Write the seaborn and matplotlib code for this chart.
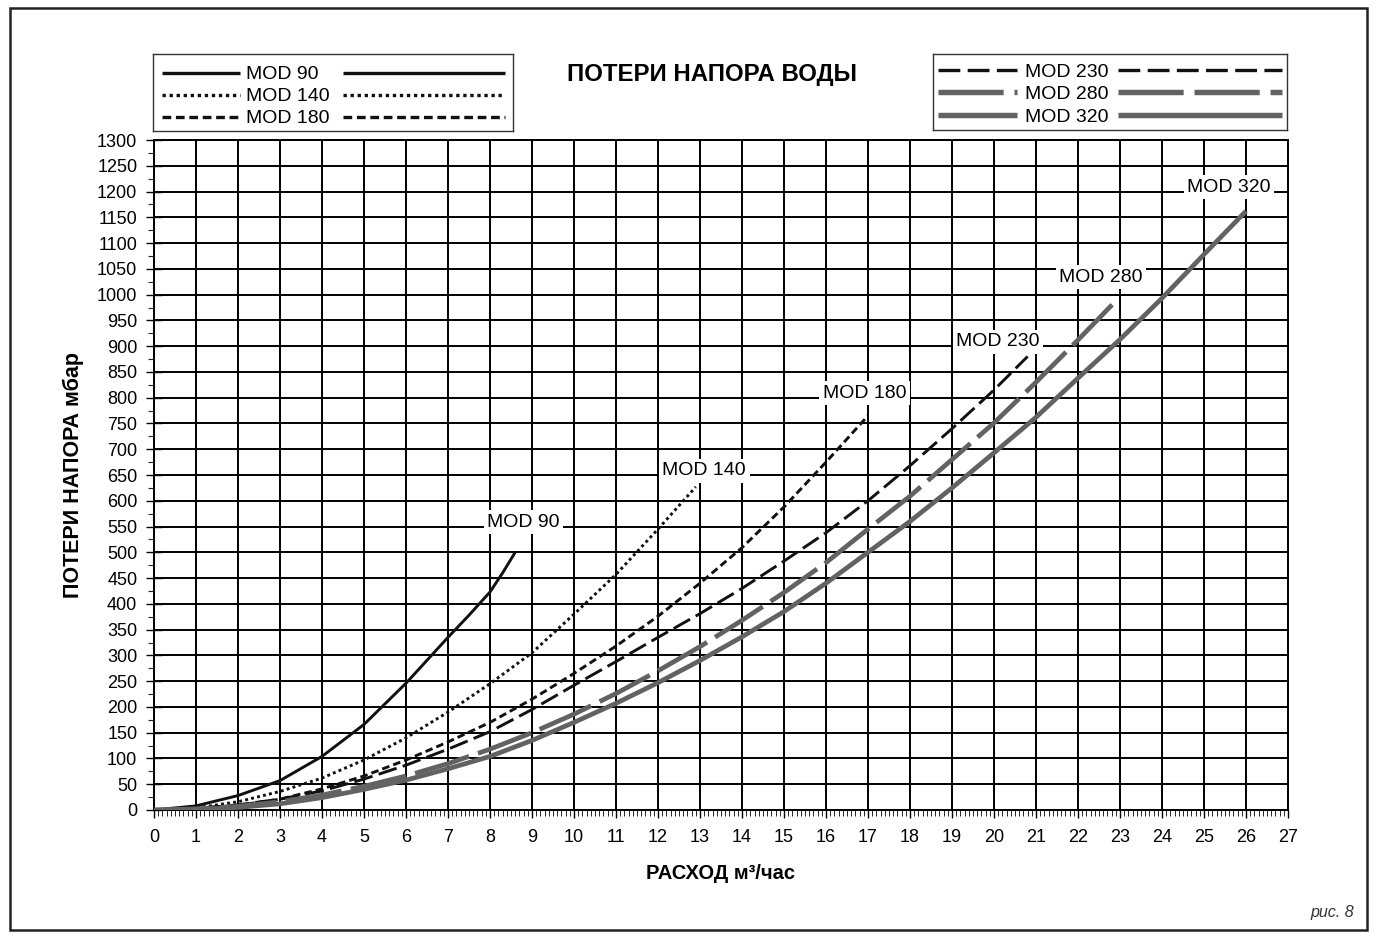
import matplotlib
matplotlib.use("Agg")
import matplotlib.pyplot as plt
import numpy as np
import pandas as pd
import seaborn as sns
from matplotlib.lines import Line2D
from matplotlib.patches import Rectangle
from matplotlib.ticker import MultipleLocator

# values (flow m3/h -> head loss mbar)
models = ["MOD 90", "MOD 140", "MOD 180", "MOD 230", "MOD 280", "MOD 320"]

flow_90 = [0, 1, 2, 3, 4, 5, 6, 7, 7.5, 8, 8.3, 8.6]
loss_90 = [0, 8, 28, 57, 104, 166, 246, 335, 378, 423, 460, 500]

flow_140 = [0, 1, 2, 3, 4, 5, 6, 7, 8, 9, 10, 11, 12, 12.9]
loss_140 = [0, 4, 16, 36, 62, 97, 140, 190, 245, 305, 380, 457, 545, 627]

flow_180 = [0, 1, 2, 3, 4, 5, 6, 7, 8, 9, 10, 11, 12, 13, 14, 15, 16, 17]
loss_180 = [0, 3, 9, 21, 41, 66, 97, 132, 170, 215, 265, 318, 376, 440, 509, 588, 675, 765]

flow_230 = [0, 1, 2, 3, 4, 5, 6, 7, 8, 9, 10, 11, 12, 13, 14, 15, 16, 17, 18, 19, 20, 20.8]
loss_230 = [0, 3, 10, 21, 37, 60, 87, 118, 152, 195, 242, 288, 335, 381, 430, 483, 538, 600,
            668, 740, 815, 880]

flow_280 = [0, 1, 2, 3, 4, 5, 6, 7, 8, 9, 10, 11, 12, 13, 14, 15, 16, 17, 18, 19, 20, 21, 22, 22.95]
loss_280 = [0, 2, 7, 16, 29, 46, 66, 90, 118, 150, 186, 226, 270, 317, 368, 422, 480, 545,
            609, 680, 751, 830, 912, 992]

flow_320 = [0, 1, 2, 3, 4, 5, 6, 7, 8, 9, 10, 11, 12, 13, 14, 15, 16, 17, 18, 19, 20, 21, 22,
            23, 24, 25, 26]
loss_320 = [0, 1, 5, 12, 24, 40, 58, 80, 104, 135, 170, 207, 247, 290, 336, 385, 440, 500,
            560, 625, 693, 762, 838, 913, 993, 1078, 1162]

x_ticks = list(range(0, 28))
y_ticks = list(range(0, 1301, 50))

series = {
    "MOD 90": (flow_90, loss_90),
    "MOD 140": (flow_140, loss_140),
    "MOD 180": (flow_180, loss_180),
    "MOD 230": (flow_230, loss_230),
    "MOD 280": (flow_280, loss_280),
    "MOD 320": (flow_320, loss_320),
}

df = pd.concat(
    [pd.DataFrame({"model": m, "flow": f, "loss": l}) for m, (f, l) in series.items()],
    ignore_index=True,
)

GREY = "#626262"
styles = {
    "MOD 90": dict(color="#111111", lw=2.1, ls="-"),
    "MOD 140": dict(color="#111111", lw=2.1, ls=(0, (1.0, 1.1))),
    "MOD 180": dict(color="#111111", lw=2.1, ls=(0, (2.6, 1.4))),
    "MOD 230": dict(color="#111111", lw=2.1, ls=(0, (6.5, 2.2))),
    "MOD 280": dict(color=GREY, lw=3.4, ls=(0, (12, 2))),
    "MOD 320": dict(color=GREY, lw=3.4, ls="-"),
}

# curve label placement (x centre, text baseline)
label_place = {
    "MOD 90": (8.8, 550),
    "MOD 140": (13.1, 650),
    "MOD 180": (16.92, 800),
    "MOD 230": (20.1, 900),
    "MOD 280": (22.55, 1025),
    "MOD 320": (25.6, 1200),
}

sns.set_theme(style="white")
plt.rcParams["font.family"] = ["Liberation Sans", "DejaVu Sans"]

fig = plt.figure(figsize=(13.76, 9.34), dpi=100)
W, H = 1376, 934
ax = fig.add_axes([154 / W, 1 - 810 / H, 1134 / W, 670 / H])

for m in models:
    st = styles[m]
    sns.lineplot(
        data=df[df["model"] == m], x="flow", y="loss", ax=ax,
        color=st["color"], linewidth=st["lw"], linestyle=st["ls"],
        solid_capstyle="butt", dash_capstyle="butt", zorder=3,
    )

ax.set_xlim(0, 27)
ax.set_ylim(0, 1300)
ax.set_xticks(x_ticks)
ax.set_yticks(y_ticks)
ax.xaxis.set_minor_locator(MultipleLocator(0.1))
ax.yaxis.set_minor_locator(MultipleLocator(25))
ax.grid(True, which="major", color="black", linewidth=1.4)
ax.set_axisbelow(True)
for sp in ax.spines.values():
    sp.set_color("black")
    sp.set_linewidth(1.4)

ax.tick_params(axis="x", which="major", direction="out", length=6, width=1, pad=8,
               labelsize=13, colors="black", bottom=True)
ax.tick_params(axis="x", which="minor", direction="out", length=4, width=0.7, bottom=True)
ax.tick_params(axis="y", which="major", direction="inout", length=12, width=1, pad=6,
               labelsize=13, colors="black", left=True)
ax.tick_params(axis="y", which="minor", direction="out", length=4, width=0.8, left=True)

ax.set_xlabel("РАСХОД м³/час", fontsize=14.5, fontweight="bold", color="black")
ax.set_ylabel("ПОТЕРИ НАПОРА мбар", fontsize=15.5, fontweight="bold", color="black")
ax.xaxis.set_label_coords(0.5, -0.08)
ax.yaxis.set_label_coords(-0.062, 0.5)

for m in models:
    lx, ly = label_place[m]
    ax.text(lx, ly, m, fontsize=14, ha="center", va="baseline", color="black", zorder=5,
            bbox=dict(boxstyle="square,pad=0.18", facecolor="white", edgecolor="none"))

# title and figure note
fig.text(712 / W, 1 - 75 / H, "ПОТЕРИ НАПОРА ВОДЫ", fontsize=17.3, fontweight="bold",
         ha="center", va="center", color="black")
fig.text(1332 / W, 1 - 913 / H, "рис. 8", fontsize=11.5, style="italic",
         ha="center", va="center", color="#333333")

# outer frame
fig.patches.append(Rectangle((10 / W, 4 / H), 1357 / W, 922 / H, transform=fig.transFigure,
                             fill=False, edgecolor="#222222", linewidth=1.8))


def draw_key(box, names, rows, seg_left, text_x, seg_right):
    lax = fig.add_axes(box)
    lax.set_xlim(0, 1)
    lax.set_ylim(0, 1)
    lax.set_xticks([])
    lax.set_yticks([])
    lax.set_facecolor("white")
    for sp in lax.spines.values():
        sp.set_color("#333333")
        sp.set_linewidth(1.0)
    for name, y in zip(names, rows):
        st = styles[name]
        lw = st["lw"] * 1.15
        for x0, x1 in (seg_left, seg_right):
            lax.add_line(Line2D([x0, x1], [y, y], color=st["color"], linewidth=lw,
                                linestyle=st["ls"], solid_capstyle="butt",
                                dash_capstyle="butt"))
        lax.text(text_x, y, name, fontsize=14, ha="left", va="center_baseline", color="black")


draw_key([153 / W, 1 - 131 / H, 360 / W, 77 / H], models[:3], [0.757, 0.471, 0.186],
         (0.025, 0.242), 0.258, (0.528, 0.978))
draw_key([933 / W, 1 - 130 / H, 354 / W, 76 / H], models[3:], [0.783, 0.496, 0.197],
         (0.014, 0.237), 0.260, (0.523, 0.986))

fig.savefig("out.png", dpi=100, facecolor="white")
